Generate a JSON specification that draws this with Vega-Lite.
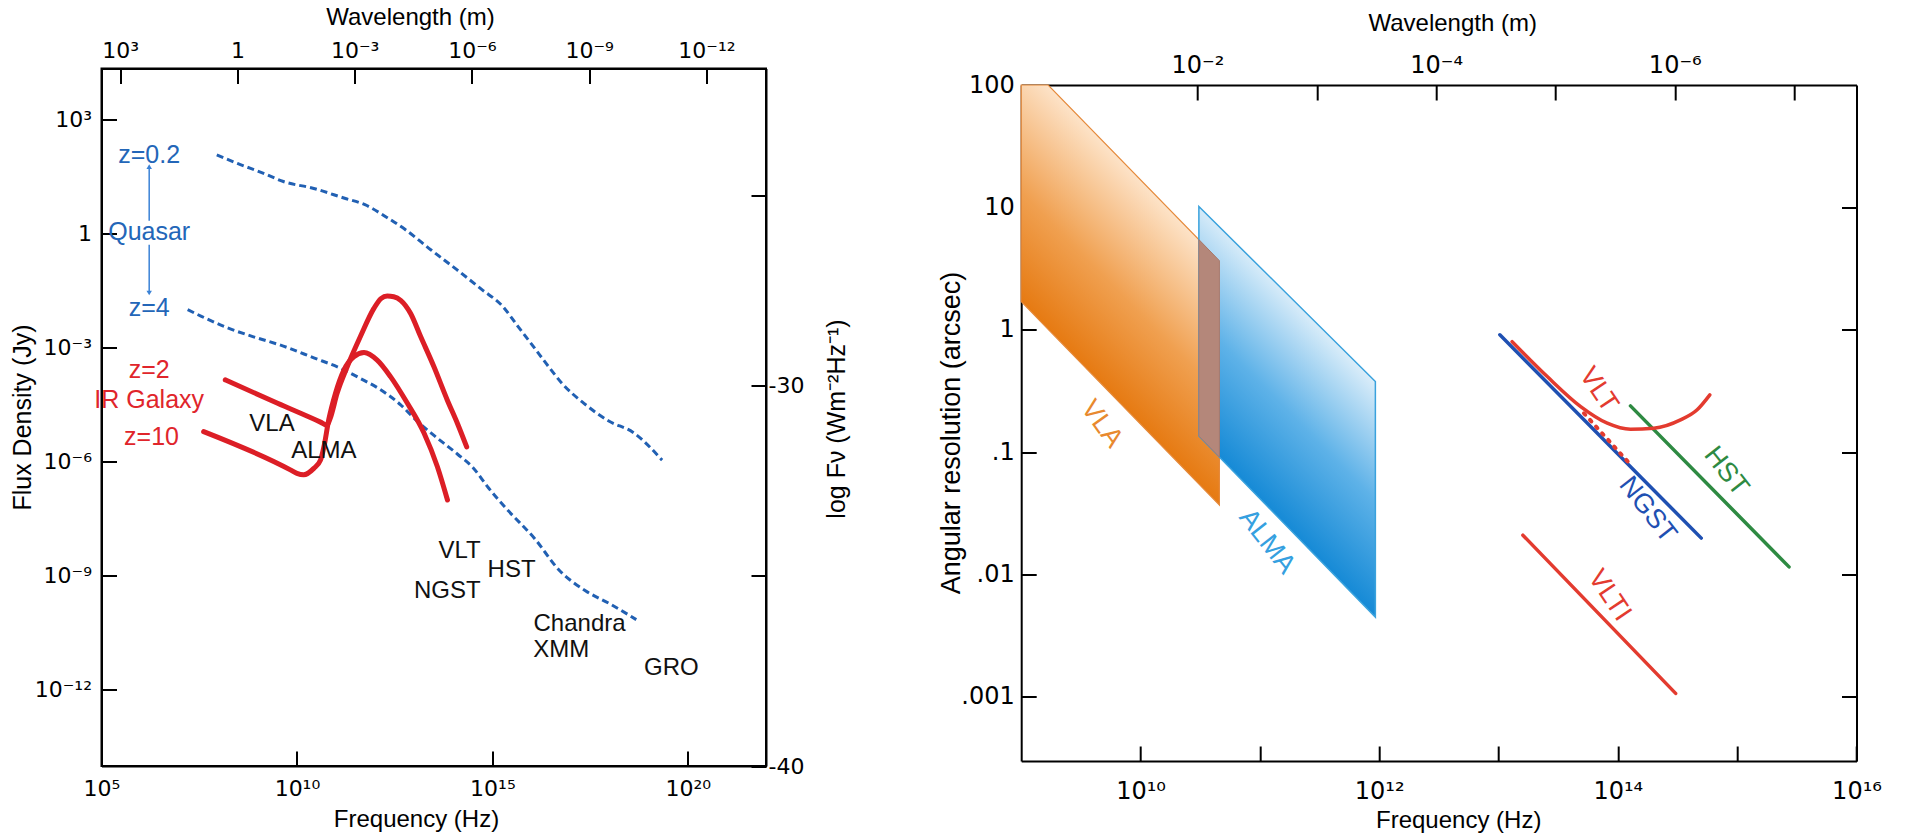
{
  "$schema": "https://vega.github.io/schema/vega-lite/v6.json",
  "autosize": {"type": "none"},
  "padding": {"left": 101.5, "top": 68.5, "right": 1804.5, "bottom": 765.5},
  "background": "white",
  "bounds": "flush",
  "spacing": 254.7,
  "datasets": {
    "quasar": [
      {"series": "z0.2", "nu": 8.9e7, "jy": 120}, {"series": "z0.2", "nu": 3.0e8, "jy": 72}, {"series": "z0.2", "nu": 1.35e9, "jy": 40},
      {"series": "z0.2", "nu": 4.5e9, "jy": 24}, {"series": "z0.2", "nu": 2.7e10, "jy": 15.8}, {"series": "z0.2", "nu": 1.66e11, "jy": 8.7},
      {"series": "z0.2", "nu": 5.5e11, "jy": 5.9}, {"series": "z0.2", "nu": 1.82e12, "jy": 2.9}, {"series": "z0.2", "nu": 6.0e12, "jy": 1.29},
      {"series": "z0.2", "nu": 2.7e13, "jy": 0.38}, {"series": "z0.2", "nu": 1.23e14, "jy": 0.115}, {"series": "z0.2", "nu": 5.5e14, "jy": 0.034},
      {"series": "z0.2", "nu": 1.82e15, "jy": 0.0126}, {"series": "z0.2", "nu": 4.5e15, "jy": 0.0037}, {"series": "z0.2", "nu": 1.1e16, "jy": 0.00112},
      {"series": "z0.2", "nu": 2.7e16, "jy": 3.3e-4}, {"series": "z0.2", "nu": 6.3e16, "jy": 1.12e-4}, {"series": "z0.2", "nu": 2.2e17, "jy": 3.5e-5},
      {"series": "z0.2", "nu": 9.5e17, "jy": 1.2e-5}, {"series": "z0.2", "nu": 4.0e18, "jy": 6.0e-6}, {"series": "z0.2", "nu": 2.2e19, "jy": 1.12e-6},
      {"series": "z4", "nu": 1.6e7, "jy": 0.0102}, {"series": "z4", "nu": 3.6e7, "jy": 0.0068}, {"series": "z4", "nu": 1.66e8, "jy": 0.0034},
      {"series": "z4", "nu": 7.4e8, "jy": 0.002}, {"series": "z4", "nu": 4.5e9, "jy": 0.00112}, {"series": "z4", "nu": 2.7e10, "jy": 5.5e-4},
      {"series": "z4", "nu": 1.23e11, "jy": 3.0e-4}, {"series": "z4", "nu": 4.1e11, "jy": 1.6e-4}, {"series": "z4", "nu": 1.35e12, "jy": 8.1e-5},
      {"series": "z4", "nu": 4.5e12, "jy": 3.2e-5}, {"series": "z4", "nu": 1.26e13, "jy": 1.12e-5}, {"series": "z4", "nu": 3.2e13, "jy": 5.0e-6},
      {"series": "z4", "nu": 1.29e14, "jy": 1.6e-6}, {"series": "z4", "nu": 3.2e14, "jy": 7.1e-7}, {"series": "z4", "nu": 7.9e14, "jy": 2.1e-7},
      {"series": "z4", "nu": 2.6e15, "jy": 5.1e-8}, {"series": "z4", "nu": 1.17e16, "jy": 1.0e-8}, {"series": "z4", "nu": 5.2e16, "jy": 1.4e-9},
      {"series": "z4", "nu": 2.4e17, "jy": 4.1e-10}, {"series": "z4", "nu": 1.07e18, "jy": 1.8e-10}, {"series": "z4", "nu": 4.8e18, "jy": 7.1e-11}
    ],
    "galaxy": [
      {"series": "z2", "nu": 1.47e8, "jy": 1.45e-4}, {"series": "z2", "nu": 3.2e9, "jy": 3.5e-5}, {"series": "z2", "nu": 4.0e10, "jy": 1.12e-5},
      {"series": "z2", "nu": 5.9e10, "jy": 9.3e-6}, {"series": "z2", "nu": 7.1e10, "jy": 1.41e-5}, {"series": "z2", "nu": 1.07e11, "jy": 6.5e-5},
      {"series": "z2", "nu": 1.93e11, "jy": 3.2e-4}, {"series": "z2", "nu": 4.2e11, "jy": 0.002}, {"series": "z2", "nu": 9.3e11, "jy": 0.011},
      {"series": "z2", "nu": 1.41e12, "jy": 0.02}, {"series": "z2", "nu": 2.04e12, "jy": 0.0234}, {"series": "z2", "nu": 3.0e12, "jy": 0.0224},
      {"series": "z2", "nu": 4.5e12, "jy": 0.018}, {"series": "z2", "nu": 8.1e12, "jy": 0.0081}, {"series": "z2", "nu": 1.46e13, "jy": 0.002},
      {"series": "z2", "nu": 3.2e13, "jy": 3.2e-4}, {"series": "z2", "nu": 7.0e13, "jy": 4.3e-5}, {"series": "z2", "nu": 1.27e14, "jy": 1.05e-5},
      {"series": "z2", "nu": 2.2e14, "jy": 2.5e-6},
      {"series": "z10", "nu": 4.1e7, "jy": 6.3e-6}, {"series": "z10", "nu": 6.8e9, "jy": 6.2e-7}, {"series": "z10", "nu": 1.0e10, "jy": 5.0e-7},
      {"series": "z10", "nu": 1.49e10, "jy": 4.6e-7}, {"series": "z10", "nu": 2.7e10, "jy": 6.8e-7}, {"series": "z10", "nu": 4.0e10, "jy": 1.12e-6},
      {"series": "z10", "nu": 4.9e10, "jy": 2.5e-6}, {"series": "z10", "nu": 6.5e10, "jy": 1.29e-5}, {"series": "z10", "nu": 9.7e10, "jy": 6.5e-5},
      {"series": "z10", "nu": 1.58e11, "jy": 2.6e-4}, {"series": "z10", "nu": 2.85e11, "jy": 5.9e-4}, {"series": "z10", "nu": 5.2e11, "jy": 7.6e-4},
      {"series": "z10", "nu": 1.13e12, "jy": 4.8e-4}, {"series": "z10", "nu": 2.5e12, "jy": 1.74e-4}, {"series": "z10", "nu": 6.7e12, "jy": 3.5e-5},
      {"series": "z10", "nu": 1.78e13, "jy": 5.8e-6}, {"series": "z10", "nu": 3.9e13, "jy": 7.6e-7}, {"series": "z10", "nu": 7.1e13, "jy": 1.0e-7}
    ],
    "arrow": [
      {"nu": 1.66e6, "jy": 59.4, "jy2": 2.24},
      {"nu": 1.66e6, "jy": 0.52, "jy2": 0.028}
    ],
    "arrowheads": [
      {"nu": 1.66e6, "jy": 59.4, "dir": "up"},
      {"nu": 1.66e6, "jy": 0.028, "dir": "down"}
    ],
    "left_labels": [
      {"label": "z=0.2", "nu": 1.66e6, "jy": 120, "kind": "quasar"},
      {"label": "Quasar", "nu": 1.66e6, "jy": 1.12, "kind": "quasar"},
      {"label": "z=4", "nu": 1.66e6, "jy": 0.0112, "kind": "quasar"},
      {"label": "z=2", "nu": 1.66e6, "jy": 2.7e-4, "kind": "galaxy"},
      {"label": "IR Galaxy", "nu": 1.66e6, "jy": 4.4e-5, "kind": "galaxy"},
      {"label": "z=10", "nu": 1.9e6, "jy": 4.6e-6, "kind": "galaxy"},
      {"label": "VLA", "nu": 2.3e9, "jy": 1.0e-5, "kind": "instrument"},
      {"label": "ALMA", "nu": 4.9e10, "jy": 2.0e-6, "kind": "instrument"},
      {"label": "VLT", "nu": 1.45e14, "jy": 4.6e-9, "kind": "instrument"},
      {"label": "HST", "nu": 3.1e15, "jy": 1.4e-9, "kind": "instrument"},
      {"label": "NGST", "nu": 7.0e13, "jy": 4.1e-10, "kind": "instrument"},
      {"label": "Chandra", "nu": 1.7e17, "jy": 5.6e-11, "kind": "instrument"},
      {"label": "XMM", "nu": 5.8e16, "jy": 1.15e-11, "kind": "instrument"},
      {"label": "GRO", "nu": 3.8e19, "jy": 3.7e-12, "kind": "instrument"}
    ],
    "left_aux": [{"lam": 1, "logF": -30}],
    "vla": [
      {"nu": 1.0e9, "theta": 100, "theta2": 1.7},
      {"nu": 1.683e9, "theta": 100, "theta2": 1.009},
      {"nu": 4.58e10, "theta": 3.67, "theta2": 0.0371}
    ],
    "alma": [
      {"nu": 3.083e10, "theta": 10.16, "theta2": 0.1355},
      {"nu": 9.29e11, "theta": 0.378, "theta2": 0.0045}
    ],
    "overlap": [
      {"nu": 3.083e10, "theta": 5.46, "theta2": 0.1355},
      {"nu": 4.58e10, "theta": 3.67, "theta2": 0.0912}
    ],
    "instruments": [
      {"series": "NGST", "nu": 1.026e13, "theta": 0.91}, {"series": "NGST", "nu": 5.0e14, "theta": 0.01986},
      {"series": "HST", "nu": 1.276e14, "theta": 0.239}, {"series": "HST", "nu": 2.72e15, "theta": 0.01156},
      {"series": "VLTI", "nu": 1.6e13, "theta": 0.021}, {"series": "VLTI", "nu": 3.05e14, "theta": 0.00107},
      {"series": "VLT", "nu": 1.3e13, "theta": 0.8}, {"series": "VLT", "nu": 2.56e13, "theta": 0.415},
      {"series": "VLT", "nu": 4.88e13, "theta": 0.236}, {"series": "VLT", "nu": 8.15e13, "theta": 0.1726},
      {"series": "VLT", "nu": 1.276e14, "theta": 0.154}, {"series": "VLT", "nu": 2.0e14, "theta": 0.157},
      {"series": "VLT", "nu": 3.35e14, "theta": 0.1837}, {"series": "VLT", "nu": 4.62e14, "theta": 0.222},
      {"series": "VLT", "nu": 5.9e14, "theta": 0.294}
    ],
    "vlt_dotted": [
      {"nu": 5.2e13, "theta": 0.208}, {"nu": 1.32e14, "theta": 0.0764}
    ],
    "right_labels": [
      {"label": "VLA", "nu": 4.73e9, "theta": 0.17, "kind": "VLA"},
      {"label": "ALMA", "nu": 1.15e11, "theta": 0.0186, "kind": "ALMA"},
      {"label": "VLT", "nu": 6.9e13, "theta": 0.324, "kind": "VLT"},
      {"label": "HST", "nu": 8.1e14, "theta": 0.0697, "kind": "HST"},
      {"label": "NGST", "nu": 1.78e14, "theta": 0.0339, "kind": "NGST"},
      {"label": "VLTI", "nu": 8.5e13, "theta": 0.00676, "kind": "VLTI"}
    ],
    "right_aux": [{"lam": 0.001, "theta": 1}]
  },
  "hconcat": [
    {
      "width": 664.5,
      "height": 697.5,
      "layer": [
        {
          "layer": [
            {
              "data": {"name": "quasar"},
              "mark": {"type": "line", "stroke": "#2160b3", "strokeWidth": 3, "strokeDash": [7, 4], "interpolate": "monotone"},
              "encoding": {
                "x": {"field": "nu", "type": "quantitative", "scale": {"type": "log", "domain": [1e5, 1e22], "nice": false},
                  "axis": {"orient": "bottom", "values": [1e5, 1e10, 1e15, 1e20],
                    "labelExpr": "datum.value < 1e6 ? '10⁵' : datum.value < 1e11 ? '10¹⁰' : datum.value < 1e16 ? '10¹⁵' : '10²⁰'",
                    "labelPadding": 27, "title": "Frequency (Hz)", "titleX": 314.5, "titleY": 53}},
                "y": {"field": "jy", "type": "quantitative", "scale": {"type": "log", "domain": [1e-14, 22646], "nice": false},
                  "axis": {"orient": "left", "values": [1000, 1, 0.001, 1e-6, 1e-9, 1e-12],
                    "labelExpr": "datum.value > 10 ? '10³' : datum.value > 0.1 ? '1' : datum.value > 1e-4 ? '10⁻³' : datum.value > 1e-7 ? '10⁻⁶' : datum.value > 1e-10 ? '10⁻⁹' : '10⁻¹²'",
                    "labelPadding": 25, "title": "Flux Density (Jy)", "titleFontSize": 25, "titleX": -79, "titleY": 348.5, "titleAngle": 270}},
                "detail": {"field": "series"}
              }
            },
            {
              "data": {"name": "galaxy"},
              "mark": {"type": "line", "stroke": "#dc1e26", "strokeWidth": 5, "strokeCap": "round", "strokeJoin": "round", "interpolate": "monotone"},
              "encoding": {
                "x": {"field": "nu", "type": "quantitative", "scale": {"type": "log", "domain": [1e5, 1e22], "nice": false}},
                "y": {"field": "jy", "type": "quantitative", "scale": {"type": "log", "domain": [1e-14, 22646], "nice": false}},
                "detail": {"field": "series"}
              }
            },
            {
              "data": {"name": "arrow"},
              "mark": {"type": "rule", "stroke": "#3b82d6", "strokeWidth": 1.5},
              "encoding": {
                "x": {"field": "nu", "type": "quantitative", "scale": {"type": "log", "domain": [1e5, 1e22], "nice": false}},
                "y": {"field": "jy", "type": "quantitative", "scale": {"type": "log", "domain": [1e-14, 22646], "nice": false}},
                "y2": {"field": "jy2"}
              }
            },
            {
              "data": {"name": "arrowheads"},
              "mark": {"type": "point", "filled": true, "color": "#3b82d6", "size": 30, "opacity": 1},
              "encoding": {
                "x": {"field": "nu", "type": "quantitative", "scale": {"type": "log", "domain": [1e5, 1e22], "nice": false}},
                "y": {"field": "jy", "type": "quantitative", "scale": {"type": "log", "domain": [1e-14, 22646], "nice": false}},
                "shape": {"field": "dir", "type": "nominal", "scale": {"domain": ["up", "down"], "range": ["triangle-up", "triangle-down"]}, "legend": null}
              }
            },
            {
              "data": {"name": "left_labels"},
              "transform": [{"filter": "datum.kind == 'quasar'"}],
              "mark": {"type": "text", "fontSize": 25, "align": "center", "baseline": "middle", "color": "#2366b8"},
              "encoding": {
                "x": {"field": "nu", "type": "quantitative", "scale": {"type": "log", "domain": [1e5, 1e22], "nice": false}},
                "y": {"field": "jy", "type": "quantitative", "scale": {"type": "log", "domain": [1e-14, 22646], "nice": false}},
                "text": {"field": "label"}
              }
            },
            {
              "data": {"name": "left_labels"},
              "transform": [{"filter": "datum.kind == 'galaxy'"}],
              "mark": {"type": "text", "fontSize": 25, "align": "center", "baseline": "middle", "color": "#e0252b"},
              "encoding": {
                "x": {"field": "nu", "type": "quantitative", "scale": {"type": "log", "domain": [1e5, 1e22], "nice": false}},
                "y": {"field": "jy", "type": "quantitative", "scale": {"type": "log", "domain": [1e-14, 22646], "nice": false}},
                "text": {"field": "label"}
              }
            },
            {
              "data": {"name": "left_labels"},
              "transform": [{"filter": "datum.kind == 'instrument'"}],
              "mark": {"type": "text", "fontSize": 24, "align": "center", "baseline": "middle", "color": "#111111"},
              "encoding": {
                "x": {"field": "nu", "type": "quantitative", "scale": {"type": "log", "domain": [1e5, 1e22], "nice": false}},
                "y": {"field": "jy", "type": "quantitative", "scale": {"type": "log", "domain": [1e-14, 22646], "nice": false}},
                "text": {"field": "label"}
              }
            }
          ]
        },
        {
          "data": {"name": "left_aux"},
          "mark": {"type": "point", "opacity": 0},
          "encoding": {
            "x": {"field": "lam", "type": "quantitative", "scale": {"type": "log", "domain": [3e-14, 3000], "reverse": true, "nice": false},
              "axis": {"orient": "top", "values": [1000, 1, 0.001, 1e-6, 1e-9, 1e-12],
                "labelExpr": "datum.value > 10 ? '10³' : datum.value > 0.1 ? '1' : datum.value > 1e-4 ? '10⁻³' : datum.value > 1e-7 ? '10⁻⁶' : datum.value > 1e-10 ? '10⁻⁹' : '10⁻¹²'",
                "labelPadding": 21, "title": "Wavelength (m)", "titleX": 308.5, "titleY": -51}},
            "y": {"field": "logF", "type": "quantitative", "scale": {"type": "linear", "domain": [-40, -21.645], "nice": false, "zero": false},
              "axis": {"orient": "right", "values": [-25, -30, -35, -40],
                "labelExpr": "datum.value == -30 ? '-30' : datum.value == -40 ? '-40' : ''",
                "labelPadding": 17, "title": "log Fν (Wm⁻²Hz⁻¹)", "titleFontSize": 25, "titleX": 70, "titleY": 350, "titleAngle": 270}}
          }
        }
      ],
      "resolve": {"scale": {"x": "independent", "y": "independent"}, "axis": {"x": "independent", "y": "independent"}}
    },
    {
      "width": 835.3,
      "height": 697.5,
      "view": {"stroke": null},
      "layer": [
        {
          "layer": [
            {
              "data": {"name": "vla"},
              "mark": {"type": "area", "stroke": "#e5893a", "strokeWidth": 1.2,
                "fill": {"gradient": "linear", "x1": 0.3, "y1": 0.661, "x2": 0.528, "y2": 0.19,
                  "stops": [{"offset": 0, "color": "#e67a12"}, {"offset": 0.45, "color": "#f0a050"}, {"offset": 1, "color": "#fde3c8"}]}},
              "encoding": {
                "x": {"field": "nu", "type": "quantitative", "scale": {"type": "log", "domain": [1e9, 1e16], "nice": false},
                  "axis": {"orient": "bottom", "offset": -5, "values": [1e10, 1e11, 1e12, 1e13, 1e14, 1e15, 1e16],
                    "labelExpr": "datum.value > 5e9 && datum.value < 2e10 ? '10¹⁰' : datum.value > 5e11 && datum.value < 2e12 ? '10¹²' : datum.value > 5e13 && datum.value < 2e14 ? '10¹⁴' : datum.value > 5e15 ? '10¹⁶' : ''",
                    "labelPadding": 33, "labelFontSize": 24, "title": "Frequency (Hz)", "titleX": 437, "titleY": 59}},
                "y": {"field": "theta", "type": "quantitative", "scale": {"type": "log", "domain": [0.0003, 100], "nice": false, "range": [692.5, 16.5]},
                  "axis": {"orient": "left", "values": [100, 10, 1, 0.1, 0.01, 0.001],
                    "labelExpr": "datum.value > 50 ? '100' : datum.value > 5 ? '10' : datum.value > 0.5 ? '1' : datum.value > 0.05 ? '.1' : datum.value > 0.005 ? '.01' : '.001'",
                    "labelPadding": 22, "labelFontSize": 24, "title": "Angular resolution (arcsec)", "titleFontSize": 27, "titleX": -70, "titleY": 364, "titleAngle": 270}},
                "y2": {"field": "theta2"}
              }
            },
            {
              "data": {"name": "alma"},
              "mark": {"type": "area", "stroke": "#3aa2dd", "strokeWidth": 1.5,
                "fill": {"gradient": "linear", "x1": 0.3, "y1": 0.691, "x2": 0.509, "y2": 0.217,
                  "stops": [{"offset": 0, "color": "#168ad6"}, {"offset": 0.5, "color": "#5eb2e8"}, {"offset": 1, "color": "#d8ecf9"}]}},
              "encoding": {
                "x": {"field": "nu", "type": "quantitative", "scale": {"type": "log", "domain": [1e9, 1e16], "nice": false}},
                "y": {"field": "theta", "type": "quantitative", "scale": {"type": "log", "domain": [0.0003, 100], "nice": false, "range": [692.5, 16.5]}},
                "y2": {"field": "theta2"}
              }
            },
            {
              "data": {"name": "overlap"},
              "mark": {"type": "area", "fill": "#b4877a", "stroke": "#a8786a", "strokeWidth": 1},
              "encoding": {
                "x": {"field": "nu", "type": "quantitative", "scale": {"type": "log", "domain": [1e9, 1e16], "nice": false}},
                "y": {"field": "theta", "type": "quantitative", "scale": {"type": "log", "domain": [0.0003, 100], "nice": false, "range": [692.5, 16.5]}},
                "y2": {"field": "theta2"}
              }
            },
            {
              "data": {"name": "instruments"},
              "transform": [{"filter": "datum.series == 'NGST'"}],
              "mark": {"type": "line", "strokeWidth": 3.5, "strokeCap": "round", "stroke": "#1f50b2"},
              "encoding": {
                "x": {"field": "nu", "type": "quantitative", "scale": {"type": "log", "domain": [1e9, 1e16], "nice": false}},
                "y": {"field": "theta", "type": "quantitative", "scale": {"type": "log", "domain": [0.0003, 100], "nice": false, "range": [692.5, 16.5]}}
              }
            },
            {
              "data": {"name": "instruments"},
              "transform": [{"filter": "datum.series == 'HST'"}],
              "mark": {"type": "line", "strokeWidth": 3.5, "strokeCap": "round", "stroke": "#2e8a42"},
              "encoding": {
                "x": {"field": "nu", "type": "quantitative", "scale": {"type": "log", "domain": [1e9, 1e16], "nice": false}},
                "y": {"field": "theta", "type": "quantitative", "scale": {"type": "log", "domain": [0.0003, 100], "nice": false, "range": [692.5, 16.5]}}
              }
            },
            {
              "data": {"name": "instruments"},
              "transform": [{"filter": "datum.series == 'VLT' || datum.series == 'VLTI'"}],
              "mark": {"type": "line", "strokeWidth": 3.5, "strokeCap": "round", "stroke": "#e33b2f", "interpolate": "monotone"},
              "encoding": {
                "x": {"field": "nu", "type": "quantitative", "scale": {"type": "log", "domain": [1e9, 1e16], "nice": false}},
                "y": {"field": "theta", "type": "quantitative", "scale": {"type": "log", "domain": [0.0003, 100], "nice": false, "range": [692.5, 16.5]}},
                "detail": {"field": "series"}
              }
            },
            {
              "data": {"name": "vlt_dotted"},
              "mark": {"type": "line", "stroke": "#e33b2f", "strokeWidth": 4, "strokeDash": [2, 7], "strokeCap": "round"},
              "encoding": {
                "x": {"field": "nu", "type": "quantitative", "scale": {"type": "log", "domain": [1e9, 1e16], "nice": false}},
                "y": {"field": "theta", "type": "quantitative", "scale": {"type": "log", "domain": [0.0003, 100], "nice": false, "range": [692.5, 16.5]}}
              }
            },
            {
              "data": {"name": "right_labels"},
              "transform": [{"filter": "datum.kind == 'VLA'"}],
              "mark": {"type": "text", "fontSize": 27, "align": "center", "baseline": "middle", "angle": 54, "color": "#e8892e"},
              "encoding": {
                "x": {"field": "nu", "type": "quantitative", "scale": {"type": "log", "domain": [1e9, 1e16], "nice": false}},
                "y": {"field": "theta", "type": "quantitative", "scale": {"type": "log", "domain": [0.0003, 100], "nice": false, "range": [692.5, 16.5]}},
                "text": {"field": "label"}
              }
            },
            {
              "data": {"name": "right_labels"},
              "transform": [{"filter": "datum.kind == 'ALMA'"}],
              "mark": {"type": "text", "fontSize": 27, "align": "center", "baseline": "middle", "angle": 52, "color": "#35a0e0"},
              "encoding": {
                "x": {"field": "nu", "type": "quantitative", "scale": {"type": "log", "domain": [1e9, 1e16], "nice": false}},
                "y": {"field": "theta", "type": "quantitative", "scale": {"type": "log", "domain": [0.0003, 100], "nice": false, "range": [692.5, 16.5]}},
                "text": {"field": "label"}
              }
            },
            {
              "data": {"name": "right_labels"},
              "transform": [{"filter": "datum.kind == 'VLT' || datum.kind == 'VLTI'"}],
              "mark": {"type": "text", "fontSize": 27, "align": "center", "baseline": "middle", "angle": 56, "color": "#e33b2f"},
              "encoding": {
                "x": {"field": "nu", "type": "quantitative", "scale": {"type": "log", "domain": [1e9, 1e16], "nice": false}},
                "y": {"field": "theta", "type": "quantitative", "scale": {"type": "log", "domain": [0.0003, 100], "nice": false, "range": [692.5, 16.5]}},
                "text": {"field": "label"}
              }
            },
            {
              "data": {"name": "right_labels"},
              "transform": [{"filter": "datum.kind == 'HST'"}],
              "mark": {"type": "text", "fontSize": 27, "align": "center", "baseline": "middle", "angle": 52, "color": "#2e8a42"},
              "encoding": {
                "x": {"field": "nu", "type": "quantitative", "scale": {"type": "log", "domain": [1e9, 1e16], "nice": false}},
                "y": {"field": "theta", "type": "quantitative", "scale": {"type": "log", "domain": [0.0003, 100], "nice": false, "range": [692.5, 16.5]}},
                "text": {"field": "label"}
              }
            },
            {
              "data": {"name": "right_labels"},
              "transform": [{"filter": "datum.kind == 'NGST'"}],
              "mark": {"type": "text", "fontSize": 27, "align": "center", "baseline": "middle", "angle": 52, "color": "#1f50b2"},
              "encoding": {
                "x": {"field": "nu", "type": "quantitative", "scale": {"type": "log", "domain": [1e9, 1e16], "nice": false}},
                "y": {"field": "theta", "type": "quantitative", "scale": {"type": "log", "domain": [0.0003, 100], "nice": false, "range": [692.5, 16.5]}},
                "text": {"field": "label"}
              }
            }
          ]
        },
        {
          "data": {"name": "right_aux"},
          "mark": {"type": "point", "opacity": 0},
          "encoding": {
            "x": {"field": "lam", "type": "quantitative", "scale": {"type": "log", "domain": [3e-8, 0.3], "reverse": true, "nice": false},
              "axis": {"orient": "top", "offset": -16.5, "values": [0.01, 0.001, 1e-4, 1e-5, 1e-6, 1e-7],
                "labelExpr": "datum.value > 5e-3 ? '10⁻²' : datum.value > 5e-5 && datum.value < 2e-4 ? '10⁻⁴' : datum.value > 5e-7 && datum.value < 2e-6 ? '10⁻⁶' : ''",
                "labelPadding": 23, "labelFontSize": 24, "title": "Wavelength (m)", "titleX": 431, "titleY": -62}},
            "y": {"field": "theta", "type": "quantitative", "scale": {"type": "log", "domain": [0.0003, 100], "nice": false, "range": [692.5, 16.5]},
              "axis": {"orient": "right", "values": [10, 1, 0.1, 0.01, 0.001], "labels": false, "title": null}}
          }
        }
      ],
      "resolve": {"scale": {"x": "independent"}, "axis": {"x": "independent", "y": "independent"}}
    }
  ],
  "config": {
    "font": "Liberation Sans",
    "view": {"stroke": "#000000", "strokeWidth": 2},
    "axis": {
      "grid": false, "domain": true, "domainColor": "#000000", "domainWidth": 2,
      "ticks": true, "tickColor": "#000000", "tickWidth": 2, "tickSize": -15,
      "labelColor": "#000000", "labelFontSize": 22, "labelFont": "DejaVu Sans",
      "titleColor": "#000000", "titleFontSize": 24, "titleFontWeight": "normal", "titleFont": "Liberation Sans",
      "titleAlign": "center", "titleBaseline": "middle",
      "labelFlush": false, "labelOverlap": false, "labelBound": false
    },
    "text": {"font": "Liberation Sans"}
  }
}
